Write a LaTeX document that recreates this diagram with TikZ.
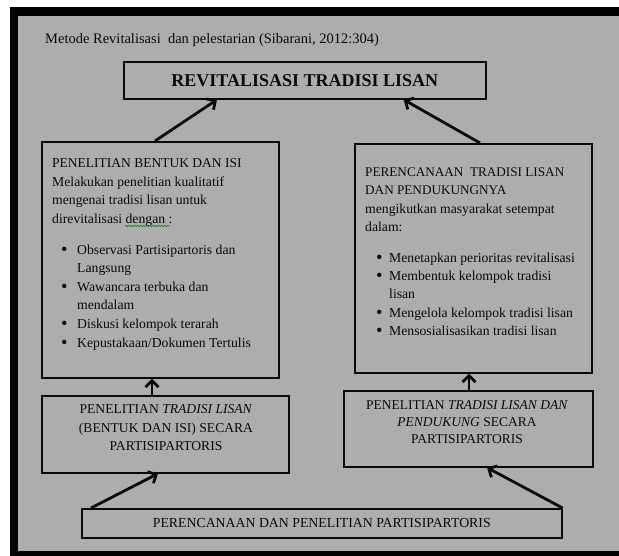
\documentclass[tikz,border=0pt]{standalone}
\usepackage{fontspec}
\setmainfont{Liberation Serif}
\usetikzlibrary{arrows.meta,calc,decorations.pathmorphing}
\definecolor{bg}{HTML}{ADADAD}
\definecolor{ink}{HTML}{0A0A0A}
\newcommand{\bigbul}{\raisebox{-1.1pt}{\scalebox{1.35}{\textbullet}}}
\newcommand{\bulA}[1]{\hspace*{9pt}\makebox[16pt][l]{\bigbul}#1}
\newcommand{\bulB}[1]{\hspace*{11pt}\makebox[13pt][l]{\bigbul}#1}
\begin{document}
\begin{tikzpicture}[x=1pt,y=-1pt,
  box/.style={draw=ink, line width=1.6pt, fill=bg, inner sep=0pt},
  arr/.style={draw=ink, line width=2.8pt, -{Straight Barb[length=6.5pt,width=13pt]}},
  bodyL/.style={text=ink, inner sep=0pt, font=\fontsize{13.7}{18.6}\selectfont},
  bodyR/.style={text=ink, inner sep=0pt, font=\fontsize{13.7}{18.3}\selectfont},
  caps/.style={text=ink, inner sep=0pt, font=\fontsize{13.6}{18.5}\selectfont}]
\useasboundingbox (0,0) rectangle (619,556);
\fill[white] (0,0) rectangle (619,556);
\fill[black] (10,7) rectangle (619,556);
\fill[bg] (18,16) rectangle (619,551);

\node[text=ink, inner sep=0pt, font=\fontsize{14.5}{17}\selectfont, anchor=base west] (title) at (45,44) {Metode Revitalisasi\ \ dan pelestarian (Sibarani, 2012:304)};

\node[box, anchor=north west, minimum width=362pt, minimum height=37pt,
      text=ink, font=\bfseries\fontsize{18}{20}\selectfont] (top) at (123,61) {REVITALISASI TRADISI LISAN};

\node[box, anchor=north west, minimum width=237pt, minimum height=236pt] (lb) at (41,141) {};
\node[bodyL, anchor=north west, align=left] (lbt) at (52,158.5) {{\fontsize{13.5}{18.6}\selectfont PENELITIAN BENTUK DAN ISI}\\
Melakukan penelitian kualitatif\\
mengenai tradisi lisan untuk\\
direvitalisasi dengan :\\[12pt]
\bulA{Observasi Partisipartoris dan}\\
\hspace*{25pt}Langsung\\
\bulA{Wawancara terbuka dan}\\
\hspace*{25pt}mendalam\\
\bulA{Diskusi kelompok terarah}\\
\bulA{Kepustakaan/Dokumen Tertulis}};
\draw[green!55!black, line width=0.6pt, decorate, decoration={snake, amplitude=0.7pt, segment length=3pt}] (125,226) -- (170,226);

\node[box, anchor=north west, minimum width=237pt, minimum height=229pt] (rb) at (354,143) {};
\node[bodyR, anchor=north west, align=left] (rbt) at (365,167.5) {{\fontsize{13.2}{18.3}\selectfont PERENCANAAN\ \ TRADISI LISAN}\\
{\fontsize{13.2}{18.3}\selectfont DAN PENDUKUNGNYA}\\
mengikutkan masyarakat setempat\\
dalam:\\[12.5pt]
\bulB{Menetapkan perioritas revitalisasi}\\
\bulB{Membentuk kelompok tradisi}\\
\hspace*{24pt}lisan\\
\bulB{Mengelola kelompok tradisi lisan}\\
\bulB{Mensosialisasikan tradisi lisan}};

\node[box, anchor=north west, minimum width=247pt, minimum height=77pt] (ls) at (41,395) {};
\node[caps, anchor=north, align=center] (lst) at (166,404.5) {PENELITIAN \textit{TRADISI LISAN}\\
(BENTUK DAN ISI) SECARA\\
PARTISIPARTORIS};

\node[box, anchor=north west, minimum width=249pt, minimum height=76pt] (rs) at (343,390) {};
\node[caps, anchor=north, align=center, font=\fontsize{13.5}{17}\selectfont] (rst) at (467,400.5) {PENELITIAN \textit{TRADISI LISAN DAN}\\
\textit{PENDUKUNG} SECARA\\
PARTISIPARTORIS};

\node[box, anchor=north west, minimum width=480pt, minimum height=29pt, text=ink,
      font=\fontsize{13.8}{15}\selectfont] (bt) at (81,508) {PERENCANAAN DAN PENELITIAN PARTISIPARTORIS};

\draw[arr] ($(lb.north west)+(114,0)$) -- ($(top.south west)+(94,0)$);
\draw[arr] ($(rb.north west)+(126,0)$) -- ($(top.south east)+(-83,0)$);
\draw[arr] ($(ls.north west)+(111,0)$) -- ($(lb.south west)+(111,0)$);
\draw[arr] ($(rs.north west)+(126,0)$) -- ($(rb.south west)+(115,0)$);
\draw[arr] ($(bt.north west)+(10,0)$) -- ($(ls.south west)+(117,0)$);
\draw[arr] (bt.north east) -- ($(rs.south west)+(144,0)$);
\end{tikzpicture}
\end{document}
